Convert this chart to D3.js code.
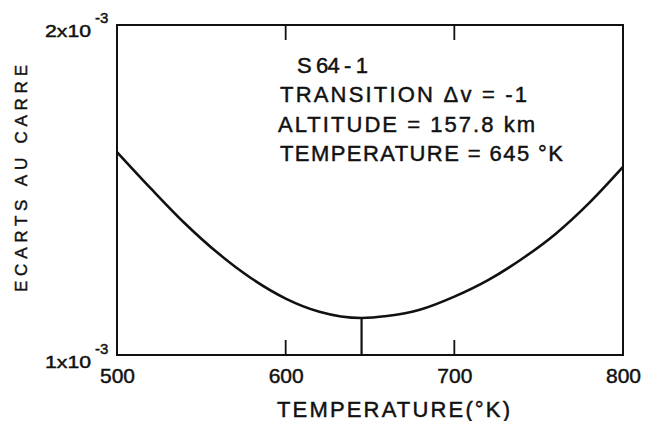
<!DOCTYPE html>
<html>
<head>
<meta charset="utf-8">
<script src="https://cdn.jsdelivr.net/npm/d3@7"></script>
<style>
  html, body { margin: 0; padding: 0; background: #fff; }
  svg { display: block; }
  text { font-family: "Liberation Sans", Arial, sans-serif; fill: #111; stroke: #111; stroke-width: 0.45; }
</style>
</head>
<body>
<svg id="chart" width="654" height="421"></svg>
<script>
// Sum of squared deviations versus trial temperature (S 64-1, Δv = -1)
const temperature = [500, 520, 540, 560, 580, 600, 620, 645, 660, 680, 700, 720, 740, 760, 780, 800];
const ecarts = [1.615, 1.505, 1.400, 1.308, 1.231, 1.171, 1.131, 1.112, 1.118, 1.138, 1.177, 1.227, 1.291, 1.367, 1.461, 1.570]; // ×10^-3
const bestTemperature = 645;
const xTickLabels = [500, 600, 700, 800];
const xInnerTicks = [600, 700];
const yTickLabels = [{ mant: "1", exp: "-3", v: 1 }, { mant: "2", exp: "-3", v: 2 }];
const infoLines = ["S 64 - 1", "TRANSITION  Δv = -1", "ALTITUDE = 157.8 km", "TEMPERATURE = 645 °K"];

const svg = d3.select("#chart");
const plotLeft = 117, plotRight = 623, plotTop = 25, plotBottom = 355;

const x = d3.scaleLinear().domain([500, 800]).range([plotLeft, plotRight]);
const y = d3.scaleLinear().domain([1, 2]).range([plotBottom, plotTop]);

// Frame
svg.append("rect")
  .attr("x", x(500)).attr("y", y(2))
  .attr("width", x(800) - x(500)).attr("height", y(1) - y(2))
  .attr("fill", "none").attr("stroke", "#111").attr("stroke-width", 2);

// Inward ticks on the bottom and top edges
const tickLen = 15;
xInnerTicks.forEach(v => {
  svg.append("rect")
    .attr("x", x(v) - 0.9).attr("y", y(1) - tickLen)
    .attr("width", 1.8).attr("height", tickLen)
    .attr("fill", "#111");
  svg.append("rect")
    .attr("x", x(v) - 0.9).attr("y", y(2))
    .attr("width", 1.8).attr("height", tickLen)
    .attr("fill", "#111");
});

// Tick labels along the temperature axis
const xl = svg.append("g").attr("transform", `translate(0,${plotBottom})`)
  .call(d3.axisBottom(x).tickValues(xTickLabels).tickSize(0).tickPadding(13).tickFormat(d3.format("d")));
xl.select(".domain").remove();
xl.selectAll("text").attr("font-size", 21).attr("font-family", "Liberation Sans, Arial, sans-serif")
  .attr("fill", "#111");

// y labels: n x10^-3
yTickLabels.forEach(t => {
  const base = t.v === 2 ? y(t.v) + 12 : y(t.v) + 13;
  const g = svg.append("g");
  g.append("text").attr("x", 45).attr("y", base)
    .attr("font-size", 17).attr("textLength", 46).attr("lengthAdjust", "spacingAndGlyphs")
    .text(t.mant + "x10");
  g.append("text").attr("x", 95).attr("y", base - 14)
    .attr("font-size", 15).text(t.exp);
});

// Curve
const curve = d3.line()
  .x((d, i) => x(temperature[i]))
  .y(d => y(d))
  .curve(d3.curveMonotoneX);
svg.append("path").datum(ecarts)
  .attr("d", curve)
  .attr("fill", "none").attr("stroke", "#111").attr("stroke-width", 2.6);

// Minimum marker
const iMin = temperature.indexOf(bestTemperature);
svg.append("line")
  .attr("x1", x(bestTemperature)).attr("x2", x(bestTemperature))
  .attr("y1", y(ecarts[iMin])).attr("y2", y(1))
  .attr("stroke", "#111").attr("stroke-width", 2.2);

// Annotation block
const infoPos = [
  { x: 297, y: 73, w: 71 },
  { x: 280, y: 102, w: 247 },
  { x: 278, y: 132, w: 257 },
  { x: 280, y: 161, w: 283 }
];
infoLines.forEach((s, i) => {
  svg.append("text")
    .attr("x", infoPos[i].x).attr("y", infoPos[i].y)
    .attr("font-size", 22)
    .attr("textLength", infoPos[i].w).attr("lengthAdjust", "spacing")
    .text(s);
});

// Axis titles
svg.append("text")
  .attr("x", 277).attr("y", 417)
  .attr("font-size", 22).attr("textLength", 233).attr("lengthAdjust", "spacing")
  .text("TEMPERATURE(°K)");

svg.append("text")
  .attr("transform", "translate(27,292) rotate(-90)")
  .attr("x", 0).attr("y", 0)
  .attr("font-size", 17).attr("textLength", 227).attr("lengthAdjust", "spacing")
  .text("ECARTS AU CARRE");
</script>
</body>
</html>
